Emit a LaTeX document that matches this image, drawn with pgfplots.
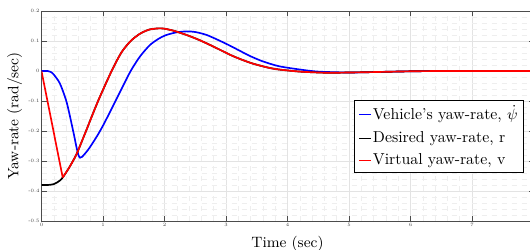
\documentclass[border=0pt]{standalone}
\usepackage{pgfplots}
\pgfplotsset{compat=1.18}
\begin{document}
\begin{tikzpicture}
\begin{axis}[
  name=ax,
  scale only axis,
  width=295.2pt, height=126pt,
  xmin=0, xmax=8, ymin=-0.5, ymax=0.2,
  xtick={0,1,2,3,4,5,6,7},
  ytick={-0.5,-0.4,-0.3,-0.2,-0.1,0,0.1,0.2},
  yticklabels={-0.5,-0.4,-0.3,-0.2,-0.1,0,0.1,0.2},
  xticklabels={0,1,2,3,4,5,6,7},
  minor x tick num=4, minor y tick num=4,
  grid=both,
  major grid style={gray!22, line width=0.4pt},
  minor grid style={gray!13, dashed, line width=0.35pt},
  tick align=inside,
  major tick length=3pt,
  minor tick length=0pt,
  tick style={black!70, line width=0.5pt},
  axis line style={black!70, line width=0.6pt},
  ticklabel style={font=\fontsize{3}{3.5}\selectfont, text=black!75},
  yticklabel style={inner sep=1pt},
  xticklabel style={inner sep=1pt},
  xlabel={Time (sec)},
  ylabel={Yaw-rate (rad/sec)},
  xlabel style={font=\fontsize{9}{10}\selectfont, at={(axis description cs:0.5,0)}, anchor=north, yshift=-5.6pt},
  ylabel style={font=\fontsize{9}{10}\selectfont, at={(axis description cs:-0.0274,0.5)}, anchor=south},
  legend cell align=left,
  legend style={at={(rel axis cs:0.9807,0.576)}, anchor=north east,
    draw=black, line width=0.5pt, fill=white,
    font=\fontsize{9.5}{11}\selectfont,
    inner xsep=2.5pt, inner ysep=2.3pt, row sep=3.3pt,
    nodes={inner sep=1pt}},
  legend image code/.code={\draw[#1, line width=0.6pt] (0pt,0pt) -- (7pt,0pt);},
]
\addplot[blue, line width=1pt, smooth, tension=0.45] coordinates {
(0,0) (0.1,0) (0.15,-0.003) (0.2,-0.012) (0.3,-0.042) (0.41,-0.105) (0.52,-0.205)
(0.57,-0.255) (0.6,-0.28) (0.626,-0.289) (0.66,-0.286) (0.76,-0.262) (0.9,-0.218)
(1.0,-0.182) (1.15,-0.122) (1.3,-0.06) (1.45,0.0) (1.6,0.048) (1.76,0.086) (1.9,0.107)
(2.03,0.12) (2.2,0.129) (2.36,0.132) (2.5,0.13) (2.7,0.119) (3.0,0.091) (3.2,0.07)
(3.39,0.05) (3.6,0.032) (3.86,0.016) (4.2,0.005) (4.5,-0.002) (5.0,-0.005)
(5.5,-0.003) (6.0,-0.001) (6.5,0) (7,0) (8,0)
};
\addlegendentry{Vehicle's yaw-rate, $\dot{\psi}$}
\addplot[black, line width=1pt, smooth, tension=0.45] coordinates {
(0,-0.38) (0.1,-0.38) (0.15,-0.379) (0.2,-0.377) (0.25,-0.372) (0.3,-0.365)
(0.345,-0.355) (0.45,-0.322) (0.57,-0.277) (0.71,-0.207) (0.92,-0.1) (1.14,0)
(1.3,0.062) (1.45,0.1) (1.6,0.124) (1.75,0.138) (1.9,0.142) (2.0,0.141) (2.17,0.133)
(2.4,0.117) (2.58,0.102) (2.8,0.081) (3.11,0.05) (3.4,0.027) (3.67,0.012) (3.86,0.005)
(4.2,-0.002) (4.5,-0.005) (4.7,-0.006) (5.0,-0.005) (5.3,-0.004) (6,-0.001) (6.5,0) (7,0) (8,0)
};
\addlegendentry{Desired yaw-rate, r}
\addplot[red, line width=1pt, smooth, tension=0.45] coordinates {
(0.345,-0.355) (0.45,-0.322) (0.57,-0.277) (0.71,-0.207) (0.92,-0.1) (1.14,0)
(1.3,0.062) (1.45,0.1) (1.6,0.124) (1.75,0.138) (1.9,0.142) (2.0,0.141) (2.17,0.133)
(2.4,0.117) (2.58,0.102) (2.8,0.081) (3.11,0.05) (3.4,0.027) (3.67,0.012) (3.86,0.005)
(4.2,-0.002) (4.5,-0.005) (4.7,-0.006) (5.0,-0.005) (5.3,-0.004) (6,-0.001) (6.5,0) (7,0) (8,0)
};
\addlegendentry{Virtual yaw-rate, v}
\addplot[red, line width=1pt, forget plot] coordinates {(0,0) (0.345,-0.355)};
\end{axis}
\pgfresetboundingbox
\path ([xshift=-24.9pt,yshift=-16.8pt]ax.south west) rectangle ([xshift=-2.1pt,yshift=6.6pt]ax.north east);
\end{tikzpicture}
\end{document}
